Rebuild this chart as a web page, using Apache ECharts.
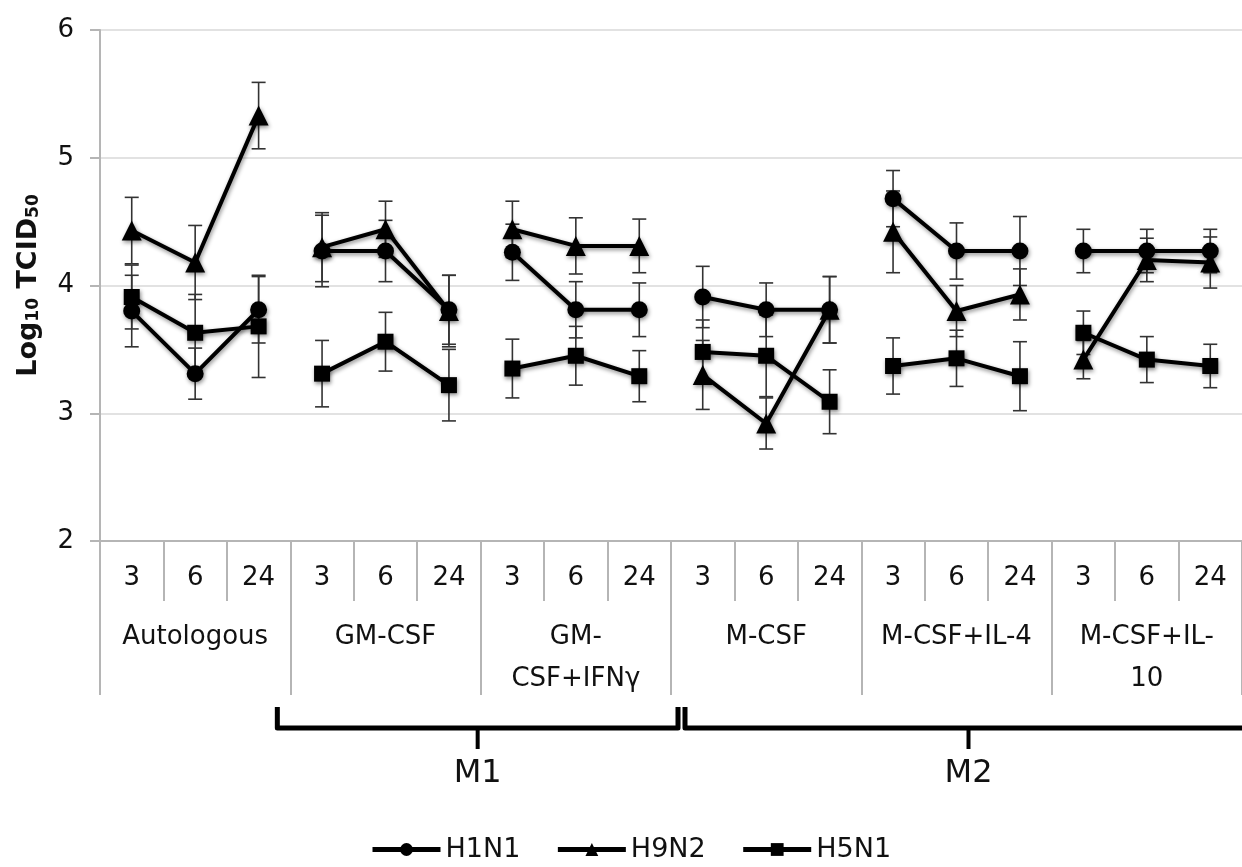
<!DOCTYPE html>
<html>
<head>
<meta charset="utf-8">
<script src="https://cdn.jsdelivr.net/npm/echarts@6/dist/echarts.min.js"></script>
<style>
  html, body { margin: 0; padding: 0; background: #fff; }
  #main { width: 1242px; height: 867px; }
</style>
</head>
<body>
<div id="main"></div>
<script>
// hours post infection, repeated per culture condition
var hours = ['3', '6', '24'];
var groups = ['Autologous', 'GM-CSF', 'GM-\nCSF+IFNγ', 'M-CSF', 'M-CSF+IL-4', 'M-CSF+IL-\n10'];
var yTicks = [2, 3, 4, 5, 6];

var h1n1 = [3.80, 3.31, 3.81, 4.27, 4.27, 3.81, 4.26, 3.81, 3.81, 3.91, 3.81, 3.81, 4.68, 4.27, 4.27, 4.27, 4.27, 4.27];
var h1n1Err = [0.28, 0.20, 0.26, 0.28, 0.24, 0.27, 0.22, 0.22, 0.21, 0.24, 0.21, 0.26, 0.22, 0.22, 0.27, 0.17, 0.17, 0.17];

var h9n2 = [4.43, 4.18, 5.33, 4.30, 4.44, 3.80, 4.44, 4.31, 4.31, 3.30, 2.92, 3.81, 4.42, 3.80, 3.93, 3.42, 4.20, 4.18];
var h9n2Err = [0.26, 0.29, 0.26, 0.27, 0.22, 0.28, 0.22, 0.22, 0.21, 0.27, 0.20, 0.26, 0.32, 0.20, 0.20, 0.15, 0.17, 0.20];

var h5n1 = [3.91, 3.63, 3.68, 3.31, 3.56, 3.22, 3.35, 3.45, 3.29, 3.48, 3.45, 3.09, 3.37, 3.43, 3.29, 3.63, 3.42, 3.37];
var h5n1Err = [0.25, 0.30, 0.40, 0.26, 0.23, 0.28, 0.23, 0.23, 0.20, 0.25, 0.32, 0.25, 0.22, 0.22, 0.27, 0.17, 0.18, 0.17];

// M1 / M2 brackets: first and last group index covered
var brackets = [
    {name: 'M1', from: 1, to: 2},
    {name: 'M2', from: 3, to: 5}
];

var FONT = 'DejaVu Sans';

var categories = [];
groups.forEach(function () {
    hours.forEach(function (h) { categories.push(h); });
});

var viruses = [
    {name: 'H1N1', values: h1n1, err: h1n1Err, symbol: 'circle', size: 17},
    {name: 'H9N2', values: h9n2, err: h9n2Err, symbol: 'triangle', size: 20},
    {name: 'H5N1', values: h5n1, err: h5n1Err, symbol: 'rect', size: 16}
];

var shadow = {shadowBlur: 4, shadowColor: 'rgba(0,0,0,0.45)', shadowOffsetX: 1, shadowOffsetY: 2};

function errorBars(params, api) {
    var x = api.value(0);
    var top = api.coord([x, api.value(2)]);
    var bot = api.coord([x, api.value(1)]);
    var w = 7;
    var style = {stroke: '#333', lineWidth: 1.6};
    return {
        type: 'group',
        children: [
            {type: 'line', shape: {x1: top[0], y1: top[1], x2: bot[0], y2: bot[1]}, style: style},
            {type: 'line', shape: {x1: top[0] - w, y1: top[1], x2: top[0] + w, y2: top[1]}, style: style},
            {type: 'line', shape: {x1: bot[0] - w, y1: bot[1], x2: bot[0] + w, y2: bot[1]}, style: style}
        ]
    };
}

var series = [];
viruses.forEach(function (v) {
    // one line piece per culture condition so the line breaks between groups
    groups.forEach(function (g, gi) {
        var data = categories.map(function (c, i) {
            return Math.floor(i / hours.length) === gi ? v.values[i] : '-';
        });
        series.push({
            name: v.name,
            type: 'line',
            data: data,
            symbol: v.symbol,
            symbolSize: v.size,
            showAllSymbol: true,
            z: 3,
            lineStyle: Object.assign({color: '#000', width: 4}, shadow),
            itemStyle: Object.assign({color: '#000'}, shadow)
        });
    });
    series.push({
        name: v.name + ' SD',
        type: 'custom',
        renderItem: errorBars,
        z: 2,
        encode: {x: 0, y: [1, 2]},
        data: v.values.map(function (val, i) {
            return [i, val - v.err[i], val + v.err[i]];
        })
    });
});

var myChart = echarts.init(document.getElementById('main'));
option = {
    backgroundColor: '#fff',
    animation: false,
    textStyle: {fontFamily: FONT},
    grid: {left: 100, right: -7, top: 30, bottom: 326},
    legend: {
        data: viruses.map(function (v) { return v.name; }),
        left: 370,
        top: 836,
        padding: 0,
        itemGap: 35,
        itemWidth: 68,
        itemHeight: 16,
        lineStyle: {width: 5, color: '#000'},
        textStyle: {fontFamily: FONT, fontSize: 27, color: '#111'}
    },
    xAxis: [
        {
            type: 'category',
            data: categories,
            axisLine: {lineStyle: {color: '#b5b5b5', width: 2}},
            axisTick: {show: true, interval: 0, length: 60, lineStyle: {color: '#b5b5b5', width: 2}},
            axisLabel: {interval: 0, margin: 24, fontSize: 26, color: '#111', fontFamily: FONT}
        },
        {
            type: 'category',
            data: groups,
            position: 'bottom',
            axisLine: {show: false},
            axisTick: {show: true, interval: 0, length: 154, lineStyle: {color: '#b5b5b5', width: 2}},
            axisLabel: {interval: 0, margin: 75, fontSize: 26, lineHeight: 42, color: '#111', fontFamily: FONT}
        }
    ],
    yAxis: {
        type: 'value',
        min: yTicks[0],
        max: yTicks[yTicks.length - 1],
        interval: 1,
        name: '{b|Log}{s|10}{b| TCID}{s|50}',
        nameLocation: 'middle',
        nameGap: 58,
        nameTextStyle: {
            rich: {
                b: {fontFamily: FONT, fontSize: 27, fontWeight: 'bold', color: '#111'},
                s: {fontFamily: FONT, fontSize: 17, fontWeight: 'bold', color: '#111', padding: [10, 0, 0, 0]}
            }
        },
        axisLine: {show: true, lineStyle: {color: '#b5b5b5', width: 2}},
        axisTick: {show: true, length: 10, lineStyle: {color: '#b5b5b5', width: 2}},
        axisLabel: {margin: 26, fontSize: 26, color: '#111', fontFamily: FONT},
        splitLine: {lineStyle: {color: '#e2e2e2', width: 2}}
    },
    series: series
};
myChart.setOption(option);

// brackets under the group labels, placed from the group axis
function drawBrackets() {
    var c0 = myChart.convertToPixel({xAxisIndex: 1}, 0);
    var c1 = myChart.convertToPixel({xAxisIndex: 1}, 1);
    var gw = c1 - c0;
    var yTop = 707, yBar = 728, yTick = 749, yText = 774;
    var els = [];
    brackets.forEach(function (b, k) {
        var left = myChart.convertToPixel({xAxisIndex: 1}, b.from) - gw / 2;
        var right = myChart.convertToPixel({xAxisIndex: 1}, b.to) + gw / 2;
        var x0 = k === 0 ? left - 13 : left + 14;
        var x1 = k === 0 ? right + 7 : right + 10;
        var pts = [[x0, yTop], [x0, yBar], [x1, yBar]];
        if (k === 0) pts.push([x1, yTop]);
        var mid = (x0 + x1) / 2;
        els.push({
            type: 'polyline',
            shape: {points: pts},
            style: {stroke: '#000', lineWidth: 5, fill: null, lineJoin: 'round'}
        });
        els.push({
            type: 'line',
            shape: {x1: mid, y1: yBar, x2: mid, y2: yTick},
            style: {stroke: '#000', lineWidth: 4}
        });
        els.push({
            type: 'text',
            x: mid,
            y: yText,
            style: {text: b.name, font: '32px "' + FONT + '"', fill: '#111', align: 'center', verticalAlign: 'middle'}
        });
    });
    myChart.setOption({graphic: els});
}
drawBrackets();
window.onresize = myChart.resize;
</script>
</body>
</html>
